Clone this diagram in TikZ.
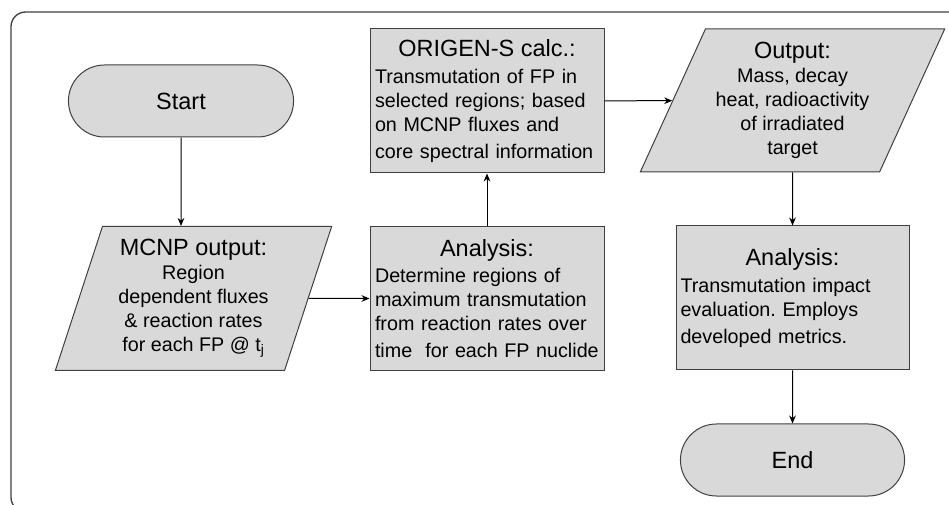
\documentclass[tikz,border=0pt]{standalone}
\usepackage{fontspec}
\setmainfont{Liberation Sans}
\frenchspacing
\usetikzlibrary{shapes.geometric, shapes.misc, arrows.meta, positioning}
\definecolor{boxgray}{HTML}{D9D9D9}
\definecolor{edgegray}{HTML}{404040}
\newcommand\hdfont{\fontsize{17.6pt}{21pt}\selectfont}
\newcommand\bdfont{\fontsize{14.8pt}{18pt}\selectfont}
\newcommand\hd[1]{\noindent\makebox[\hsize]{\hdfont #1}}
\tikzstyle{frm}=[edgegray,line width=1pt,rounded corners=11pt]
\tikzstyle{blk}=[draw=edgegray,fill=boxgray,line width=0.75pt,font=\bdfont]
\tikzstyle{term}=[blk,rounded rectangle,minimum width=175.5pt,minimum height=54pt]
\tikzstyle{proc}=[blk,rectangle,minimum width=175.5pt,minimum height=108pt,text width=168pt,inner xsep=3pt,align=left]
\tikzstyle{io}=[blk,trapezium,trapezium stretches=true,align=center,inner sep=2pt]
\tikzstyle{flw}=[-{Stealth[length=6pt,width=5pt]},line width=0.75pt]

\begin{document}
\begin{tikzpicture}[x=0.75pt,y=-0.75pt]
\clip (0,0) rectangle (949,505);
\draw[frm] (11,12) rectangle (965,512);
\node[term] (st) at (181,101) {\hdfont Start};
\node[io,trapezium left angle=72,trapezium right angle=108,minimum width=207.75pt,minimum height=108pt] (mc) at (193.5,298.5)
  {{\hdfont MCNP output:}\\Region\\dependent fluxes\\\& reaction rates\\for each FP @ t\textsubscript{j}};
\node[proc] (an) at (487,298.5)
  {\hd{Analysis:}\\[2pt]Determine regions of\\maximum transmutation\\from reaction rates over\\[2pt]time\ \ for each FP nuclide};
\node[proc] (og) at (487,101)
  {\hd{ORIGEN-S calc.:}\\[2pt]Transmutation of FP in\\selected regions; based\\on MCNP fluxes and\\[2pt]core spectral information};
\node[io,trapezium left angle=64,trapezium right angle=116,minimum width=228.75pt,minimum height=107.25pt] (ot) at (792.5,100.5)
  {{\hdfont Output:}\\Mass, decay\\heat, radioactivity\\of irradiated\\target};
\node[proc,minimum width=174.75pt] (ev) at (792.5,298)
  {\hd{Analysis:}\\[2pt]Transmutation impact\\evaluation. Employs\\[2pt]developed metrics.};
\node[term,minimum width=174.75pt] (en) at (792.5,460) {\hdfont End};
\draw[flw] (st) -- (st |- mc.north);
\draw[flw] (mc) -- (an);
\draw[flw] (an) -- (og);
\draw[flw] (og) -- (ot);
\draw[flw] (ot.south) -- (ev);
\draw[flw] (ev) -- (en);
\end{tikzpicture}
\end{document}
